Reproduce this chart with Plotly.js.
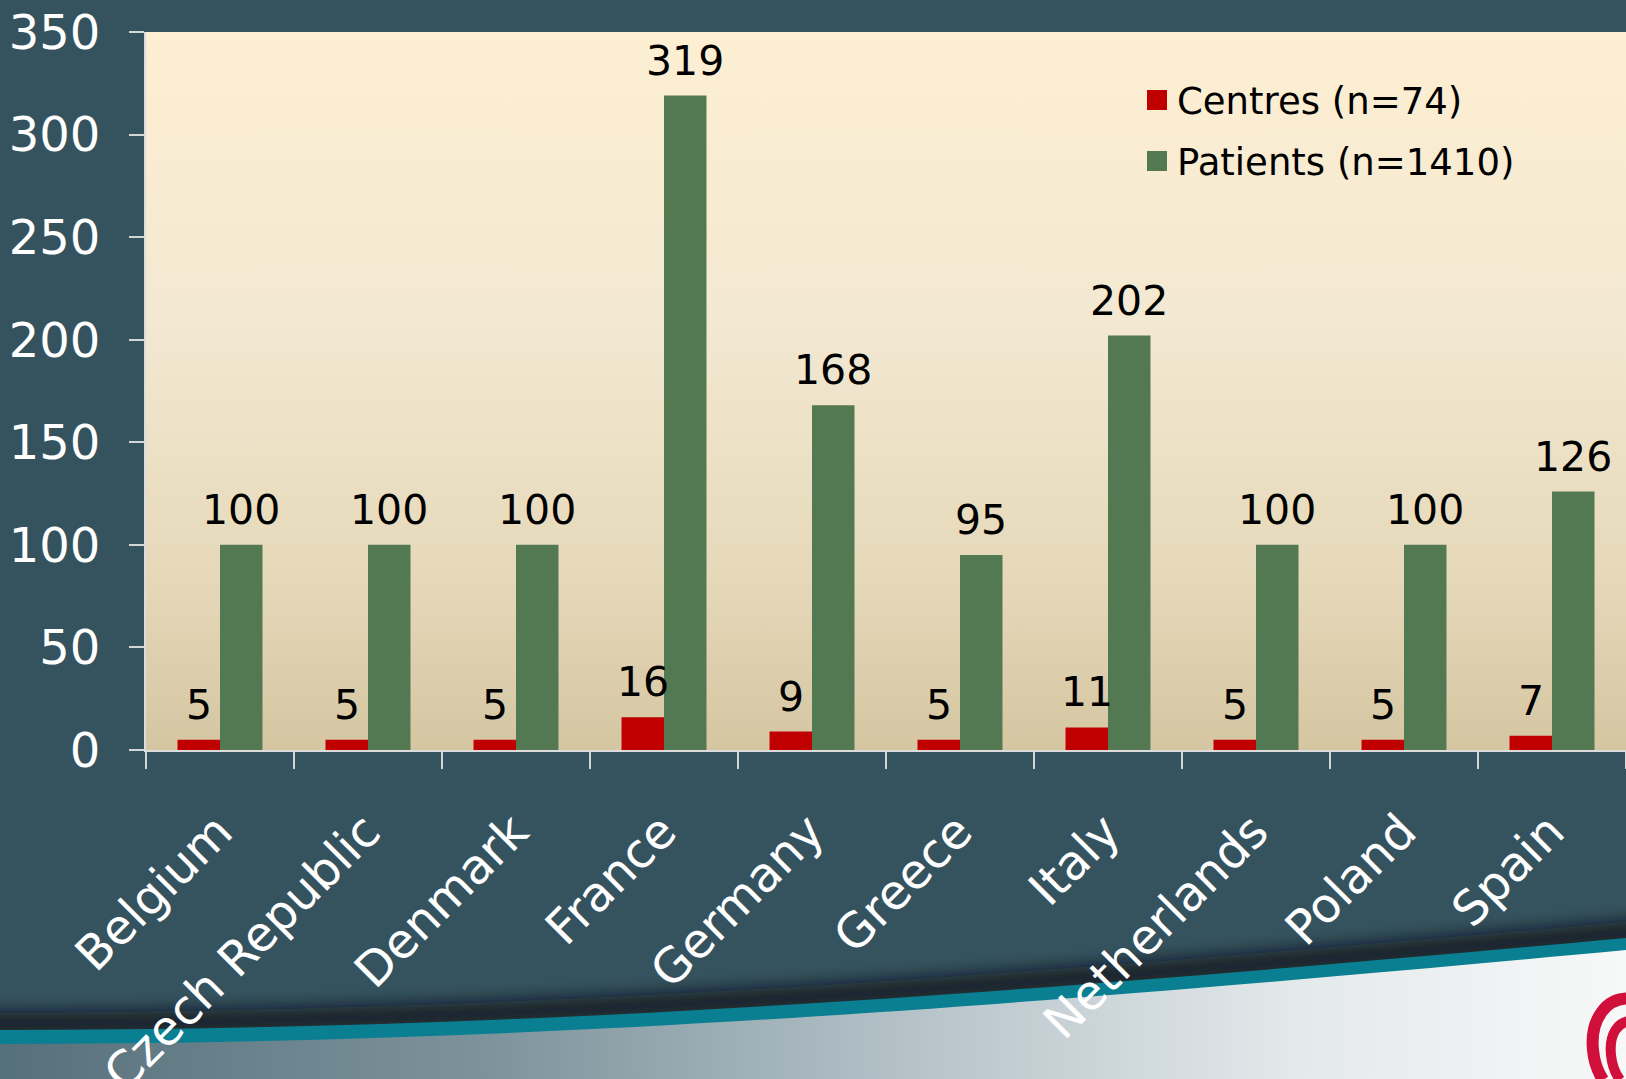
<!DOCTYPE html>
<html>
<head>
<meta charset="utf-8">
<script src="https://cdn.plot.ly/plotly-3.0.1.min.js"></script>
<style>
  html, body { margin: 0; padding: 0; width: 1626px; height: 1079px; overflow: hidden; background: #35535f; }
  #bg { position: absolute; left: 0; top: 0; width: 1626px; height: 1079px; z-index: 0; }
  #plotbg { position: absolute; left: 146px; top: 32px; width: 1480px; height: 718px; z-index: 1;
            background: linear-gradient(to bottom, #fdefd2 0%, #f3e8d2 40%, #e6d9ba 75%, #d5c6a2 100%); }
  #chart { position: absolute; left: 0; top: 0; width: 1626px; height: 1079px; z-index: 2; }
</style>
</head>
<body>
<svg id="bg" width="1626" height="1079" xmlns="http://www.w3.org/2000/svg">
  <defs>
    <linearGradient id="lower" x1="0" y1="0" x2="1" y2="0">
      <stop offset="0" stop-color="#56707b"/>
      <stop offset="0.3" stop-color="#7d939c"/>
      <stop offset="0.55" stop-color="#b3c1c7"/>
      <stop offset="0.8" stop-color="#e4e9eb"/>
      <stop offset="1" stop-color="#f7f8f8"/>
    </linearGradient>
    <filter id="blur" x="-10%" y="-200%" width="120%" height="500%">
      <feGaussianBlur stdDeviation="9"/>
    </filter>
  </defs>
  <rect x="0" y="0" width="1626" height="1079" fill="#35535f"/>
  <path d="M-40,1024 C500,1024 950,994 1680,928" fill="none" stroke="#0d1316" stroke-opacity="0.85" stroke-width="22" filter="url(#blur)"/>
  <path d="M0,1030 C500,1030 950,1000 1626,938 L1626,1079 L0,1079 Z" fill="#0a7f92"/>
  <path d="M0,1044 C500,1044 950,1013 1626,950 L1626,1079 L0,1079 Z" fill="url(#lower)"/>
  <path d="M1634,999 C1606,995 1590,1020 1593,1050 C1594,1062 1598,1072 1603,1080" fill="none" stroke="#d0103a" stroke-width="12"/>
  <path d="M1634,1021 C1617,1020 1609,1035 1611,1055 C1612,1065 1615,1073 1620,1080" fill="none" stroke="#d0103a" stroke-width="10"/>
</svg>
<div id="plotbg"></div>
<div id="chart"></div>
<script>
const categories = ["Belgium", "Czech Republic", "Denmark", "France", "Germany", "Greece", "Italy", "Netherlands", "Poland", "Spain"];
const centres = [5, 5, 5, 16, 9, 5, 11, 5, 5, 7];
const patients = [100, 100, 100, 319, 168, 95, 202, 100, 100, 126];
const seriesNames = ["Centres (n=74)", "Patients (n=1410)"];
const yTicks = [0, 50, 100, 150, 200, 250, 300, 350];

const RED = "#c00000";
const GREEN = "#537953";
const FONT = "DejaVu Sans";

const traces = [
  { type: "bar", x: categories, y: centres, name: seriesNames[0], marker: { color: RED }, showlegend: false, hoverinfo: "none" },
  { type: "bar", x: categories, y: patients, name: seriesNames[1], marker: { color: GREEN }, showlegend: false, hoverinfo: "none" },
  { type: "scatter", mode: "markers", x: [null], y: [null], name: seriesNames[0], legendgroup: "a",
    marker: { symbol: "square", size: 16, color: RED, line: { width: 4, color: RED } } },
  { type: "scatter", mode: "markers", x: [null], y: [null], name: seriesNames[1], legendgroup: "b",
    marker: { symbol: "square", size: 16, color: GREEN, line: { width: 4, color: GREEN } } }
];

const annotations = [];
categories.forEach((c, i) => {
  annotations.push({ x: c, y: centres[i], xref: "x", yref: "y", text: String(centres[i]), showarrow: false,
    xshift: -21, yshift: 9, yanchor: "bottom", xanchor: "center", font: { family: FONT, size: 41, color: "#000" } });
  annotations.push({ x: c, y: patients[i], xref: "x", yref: "y", text: String(patients[i]), showarrow: false,
    xshift: 21, yshift: 9, yanchor: "bottom", xanchor: "center", font: { family: FONT, size: 41, color: "#000" } });
});

const layout = {
  width: 1626, height: 1079,
  margin: { l: 146, r: 0, t: 32, b: 329, pad: 0 },
  paper_bgcolor: "rgba(0,0,0,0)",
  plot_bgcolor: "rgba(0,0,0,0)",
  barmode: "group",
  bargap: 0.426,
  bargroupgap: 0,
  font: { family: FONT, color: "#ffffff" },
  xaxis: {
    type: "category",
    showgrid: false,
    showline: true, linecolor: "#dcdcdc", linewidth: 2,
    ticks: "outside", tickson: "boundaries", ticklen: 17, tickwidth: 2, tickcolor: "#d6d6d6",
    tickangle: -45,
    tickfont: { family: FONT, size: 48, color: "#ffffff" },
    ticklabelstandoff: 32,
    ticklabelshift: -2,
    fixedrange: true
  },
  yaxis: {
    range: [0, 350],
    tickmode: "array", tickvals: yTicks, ticktext: yTicks.map(String),
    showgrid: false, zeroline: false,
    showline: true, linecolor: "#dcdcdc", linewidth: 2,
    ticks: "outside", ticklen: 15, tickwidth: 2, tickcolor: "#d6d6d6",
    tickfont: { family: FONT, size: 48, color: "#ffffff" },
    ticklabelstandoff: 19,
    fixedrange: true
  },
  legend: {
    x: 0.6696, xanchor: "left", y: 0.948, yanchor: "top",
    bgcolor: "rgba(0,0,0,0)", borderwidth: 0,
    font: { family: FONT, size: 37, color: "#000000" },
    tracegroupgap: 10,
    traceorder: "grouped"
  },
  annotations: annotations,
  showlegend: true
};

Plotly.newPlot("chart", traces, layout, { displayModeBar: false, staticPlot: true });
</script>
</body>
</html>
